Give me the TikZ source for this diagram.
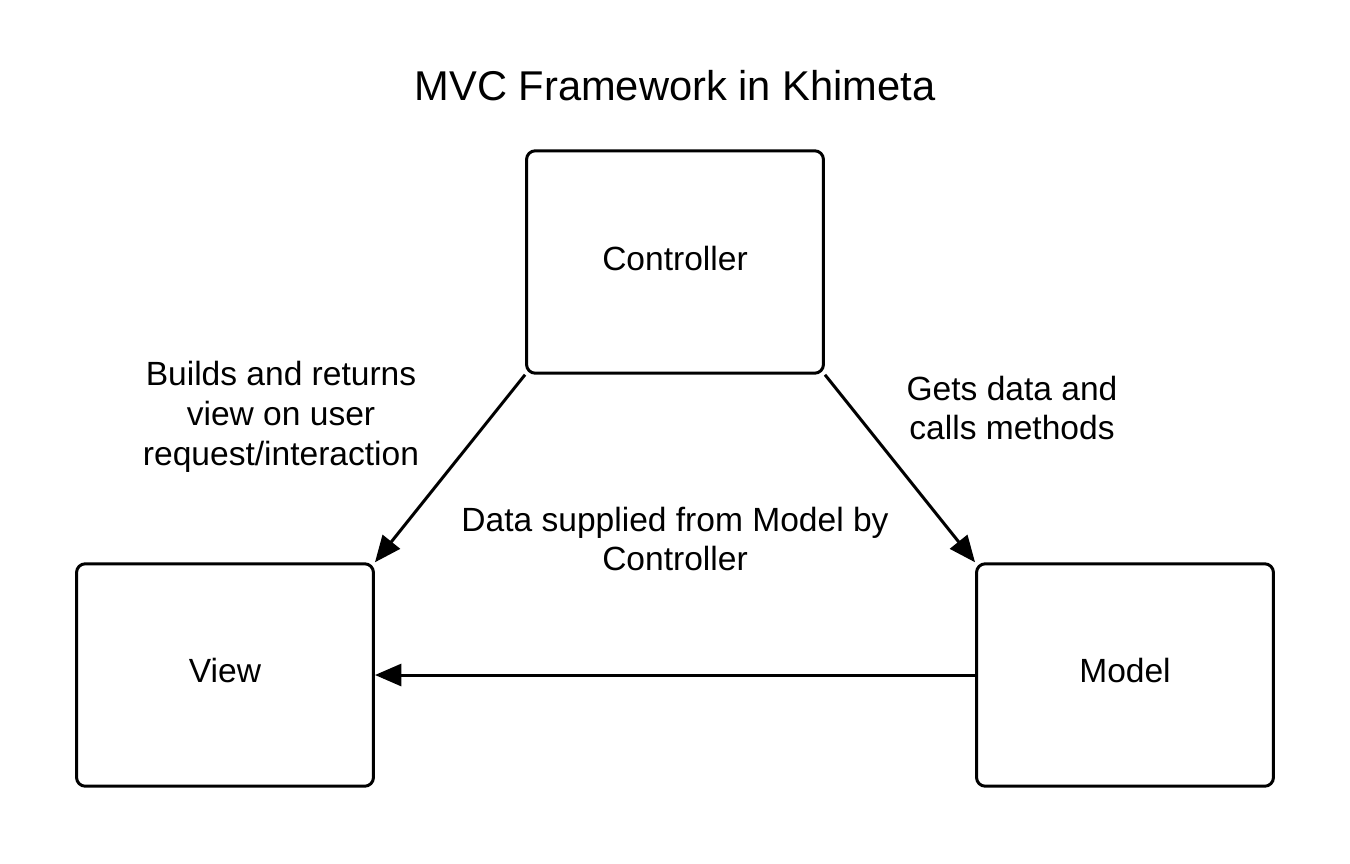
\documentclass[tikz,border=0pt]{standalone}
\usepackage{fontspec}
\setmainfont{Liberation Sans}
\usetikzlibrary{arrows.meta}
\begin{document}
\begin{tikzpicture}[x=0.02cm,y=-0.02cm,
  box/.style={draw, line width=1.7pt, rounded corners=5pt, minimum width=5.94cm, minimum height=4.45cm, inner sep=0pt, font=\fontsize{19.1}{22.7}\selectfont},
  lbl/.style={align=center, font=\fontsize{19.1}{22.7}\selectfont, inner sep=0pt},
  conn/.style={line width=1.7pt, -{Triangle[length=15pt,width=12.5pt]}}]
\useasboundingbox (0,0) rectangle (1350,863);
\node[font=\fontsize{23.7}{28}\selectfont, inner sep=0pt] (title) at (675,86) {MVC Framework in Khimeta};
\node[box] (ctrl) at (675,262) {\raisebox{0.16cm}{Controller}};
\node[box] (view) at (225,675) {\raisebox{0.2cm}{View}};
\node[box] (model) at (1125,675) {\raisebox{0.2cm}{Model}};
\draw[conn] (ctrl.south west) -- (view.north east);
\draw[conn] (ctrl.south east) -- (model.north west);
\draw[conn] (model.west) -- (view.east);
\node[lbl] (l1) at (281,417) {Builds and returns\\view on user\\request/interaction};
\node[lbl] (l2) at (1012,408) {Gets data and\\calls methods};
\node[lbl] (l3) at (675,539) {Data supplied from Model by\\Controller};
\end{tikzpicture}
\end{document}
